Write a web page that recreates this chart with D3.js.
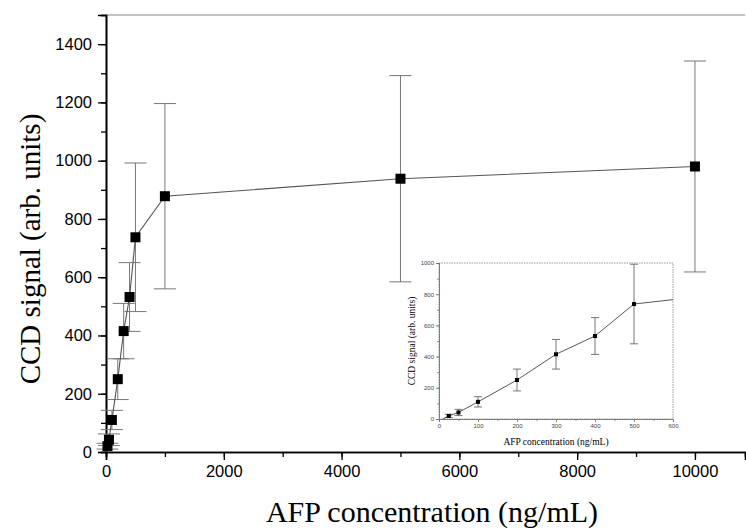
<!DOCTYPE html>
<html>
<head>
<meta charset="utf-8">
<script src="https://cdn.jsdelivr.net/npm/d3@7"></script>
<style>
  body { margin: 0; background: #fff; }
  svg { display: block; }
</style>
</head>
<body>
<svg></svg>
<script>
// AFP concentration (ng/mL), CCD signal and its error bar
var conc   = [10, 25, 50, 100, 200, 300, 400, 500, 1000, 5000, 10000];
var signal = [0, 20, 42, 110, 250, 415, 532, 737, 878, 938, 980];
var err    = [0, 10, 20, 33, 70, 95, 118, 255, 318, 354, 362];

var xTicks = [0, 2000, 4000, 6000, 8000, 10000];
var yTicks = [0, 200, 400, 600, 800, 1000, 1200, 1400];
var insetXTicks = [0, 100, 200, 300, 400, 500, 600];
var insetYTicks = [0, 200, 400, 600, 800, 1000];

var data = conc.map(function(c, i) { return {x: c, y: signal[i], e: err[i]}; });

var width = 746, height = 529;
var svg = d3.select('svg').attr('width', width).attr('height', height);

// main plot
var x = d3.scaleLinear().domain([0, 10850]).range([106, 745]);
var y = d3.scaleLinear().domain([0, 1500]).range([452, 15]);

svg.append('line')
  .attr('x1', 106).attr('x2', 745).attr('y1', 15).attr('y2', 15)
  .attr('stroke', '#888').attr('stroke-width', 1);

var xAxis = svg.append('g').attr('transform', 'translate(0,452)')
  .call(d3.axisBottom(x).tickValues(d3.range(0, 10001, 1000)).tickSize(5).tickFormat(''));
xAxis.append('g').call(d3.axisBottom(x).tickValues(xTicks).tickSize(8).tickPadding(5).tickFormat(d3.format('d')));

var yAxis = svg.append('g').attr('transform', 'translate(106,0)')
  .call(d3.axisLeft(y).tickValues(d3.range(0, 1501, 100)).tickSize(5).tickFormat(''));
yAxis.append('g').call(d3.axisLeft(y).tickValues(yTicks).tickSize(8).tickPadding(6).tickFormat(d3.format('d')));

svg.selectAll('.domain').attr('stroke', '#000').attr('stroke-width', 1.6);
svg.selectAll('.tick line').attr('stroke', '#000').attr('stroke-width', 1.3);
svg.selectAll('.tick text').attr('font-family', 'Liberation Sans, Arial, sans-serif')
  .attr('font-size', 16.5).attr('fill', '#000');

// error bars
var eb = svg.append('g').attr('stroke', '#777').attr('stroke-width', 1);
eb.selectAll('line.v').data(data.filter(function(d) { return d.e > 0; })).enter().append('line')
  .attr('x1', function(d) { return x(d.x); }).attr('x2', function(d) { return x(d.x); })
  .attr('y1', function(d) { return y(d.y - d.e); }).attr('y2', function(d) { return y(d.y + d.e); });
[-1, 1].forEach(function(s) {
  eb.selectAll(null).data(data.filter(function(d) { return d.e > 0; })).enter().append('line')
    .attr('x1', function(d) { return x(d.x) - 11; }).attr('x2', function(d) { return x(d.x) + 11; })
    .attr('y1', function(d) { return y(d.y + s * d.e); }).attr('y2', function(d) { return y(d.y + s * d.e); });
});

var line = d3.line().x(function(d) { return x(d.x); }).y(function(d) { return y(d.y); });
svg.append('path').datum(data).attr('d', line)
  .attr('fill', 'none').attr('stroke', '#555').attr('stroke-width', 1.1);

svg.selectAll('rect.pt').data(data.filter(function(d) { return d.y > 0; })).enter().append('rect')
  .attr('x', function(d) { return x(d.x) - 5; }).attr('y', function(d) { return y(d.y) - 5; })
  .attr('width', 10).attr('height', 10).attr('fill', '#000');

svg.append('text')
  .attr('x', 432).attr('y', 522).attr('text-anchor', 'middle')
  .attr('font-family', 'Liberation Serif, Times New Roman, serif').attr('font-size', 30)
  .text('AFP concentration (ng/mL)');
svg.append('text')
  .attr('transform', 'translate(40,249) rotate(-90)').attr('text-anchor', 'middle')
  .attr('font-family', 'Liberation Serif, Times New Roman, serif').attr('font-size', 29)
  .text('CCD signal (arb. units)');

// inset
var ix = d3.scaleLinear().domain([0, 600]).range([439, 673]);
var iy = d3.scaleLinear().domain([0, 1000]).range([419, 263]);
var inset = svg.append('g');

svg.append('defs').append('clipPath').attr('id', 'insetClip')
  .append('rect').attr('x', 439).attr('y', 263).attr('width', 234).attr('height', 156);

inset.append('rect').attr('x', 439).attr('y', 263).attr('width', 234).attr('height', 156)
  .attr('fill', '#fff').attr('stroke', '#999').attr('stroke-width', 1).attr('stroke-dasharray', '1.5,1');

var ixAxis = inset.append('g').attr('transform', 'translate(0,419)')
  .call(d3.axisBottom(ix).tickValues(d3.range(0, 601, 50)).tickSize(2).tickFormat(''));
ixAxis.append('g').call(d3.axisBottom(ix).tickValues(insetXTicks).tickSize(3).tickPadding(2).tickFormat(d3.format('d')));
var iyAxis = inset.append('g').attr('transform', 'translate(439,0)')
  .call(d3.axisLeft(iy).tickValues(d3.range(0, 1001, 100)).tickSize(2).tickFormat(''));
iyAxis.append('g').call(d3.axisLeft(iy).tickValues(insetYTicks).tickSize(3).tickPadding(2).tickFormat(d3.format('d')));
inset.selectAll('.domain').attr('stroke', '#777').attr('stroke-width', 0.8);
inset.selectAll('.tick line').attr('stroke', '#777').attr('stroke-width', 0.8);
inset.selectAll('.tick text').attr('font-family', 'Liberation Sans, Arial, sans-serif')
  .attr('font-size', 6).attr('fill', '#444');

var ig = inset.append('g').attr('clip-path', 'url(#insetClip)');
var ieb = ig.append('g').attr('stroke', '#666').attr('stroke-width', 0.9);
var iData = data.filter(function(d) { return d.e > 0; });
ieb.selectAll(null).data(iData).enter().append('line')
  .attr('x1', function(d) { return ix(d.x); }).attr('x2', function(d) { return ix(d.x); })
  .attr('y1', function(d) { return iy(d.y - d.e); }).attr('y2', function(d) { return iy(d.y + d.e); });
[-1, 1].forEach(function(s) {
  ieb.selectAll(null).data(iData).enter().append('line')
    .attr('x1', function(d) { return ix(d.x) - 4; }).attr('x2', function(d) { return ix(d.x) + 4; })
    .attr('y1', function(d) { return iy(d.y + s * d.e); }).attr('y2', function(d) { return iy(d.y + s * d.e); });
});
var iline = d3.line().x(function(d) { return ix(d.x); }).y(function(d) { return iy(d.y); });
ig.append('path').datum(data).attr('d', iline)
  .attr('fill', 'none').attr('stroke', '#444').attr('stroke-width', 0.9);
ig.selectAll(null).data(data.filter(function(d) { return d.y > 0; })).enter().append('rect')
  .attr('x', function(d) { return ix(d.x) - 2; }).attr('y', function(d) { return iy(d.y) - 2; })
  .attr('width', 4).attr('height', 4).attr('fill', '#000');

inset.append('text')
  .attr('x', 556).attr('y', 445).attr('text-anchor', 'middle')
  .attr('font-family', 'Liberation Serif, Times New Roman, serif').attr('font-size', 9.5)
  .text('AFP concentration (ng/mL)');
inset.append('text')
  .attr('transform', 'translate(415,341) rotate(-90)').attr('text-anchor', 'middle')
  .attr('font-family', 'Liberation Serif, Times New Roman, serif').attr('font-size', 9.5)
  .text('CCD signal (arb. units)');
</script>
</body>
</html>
